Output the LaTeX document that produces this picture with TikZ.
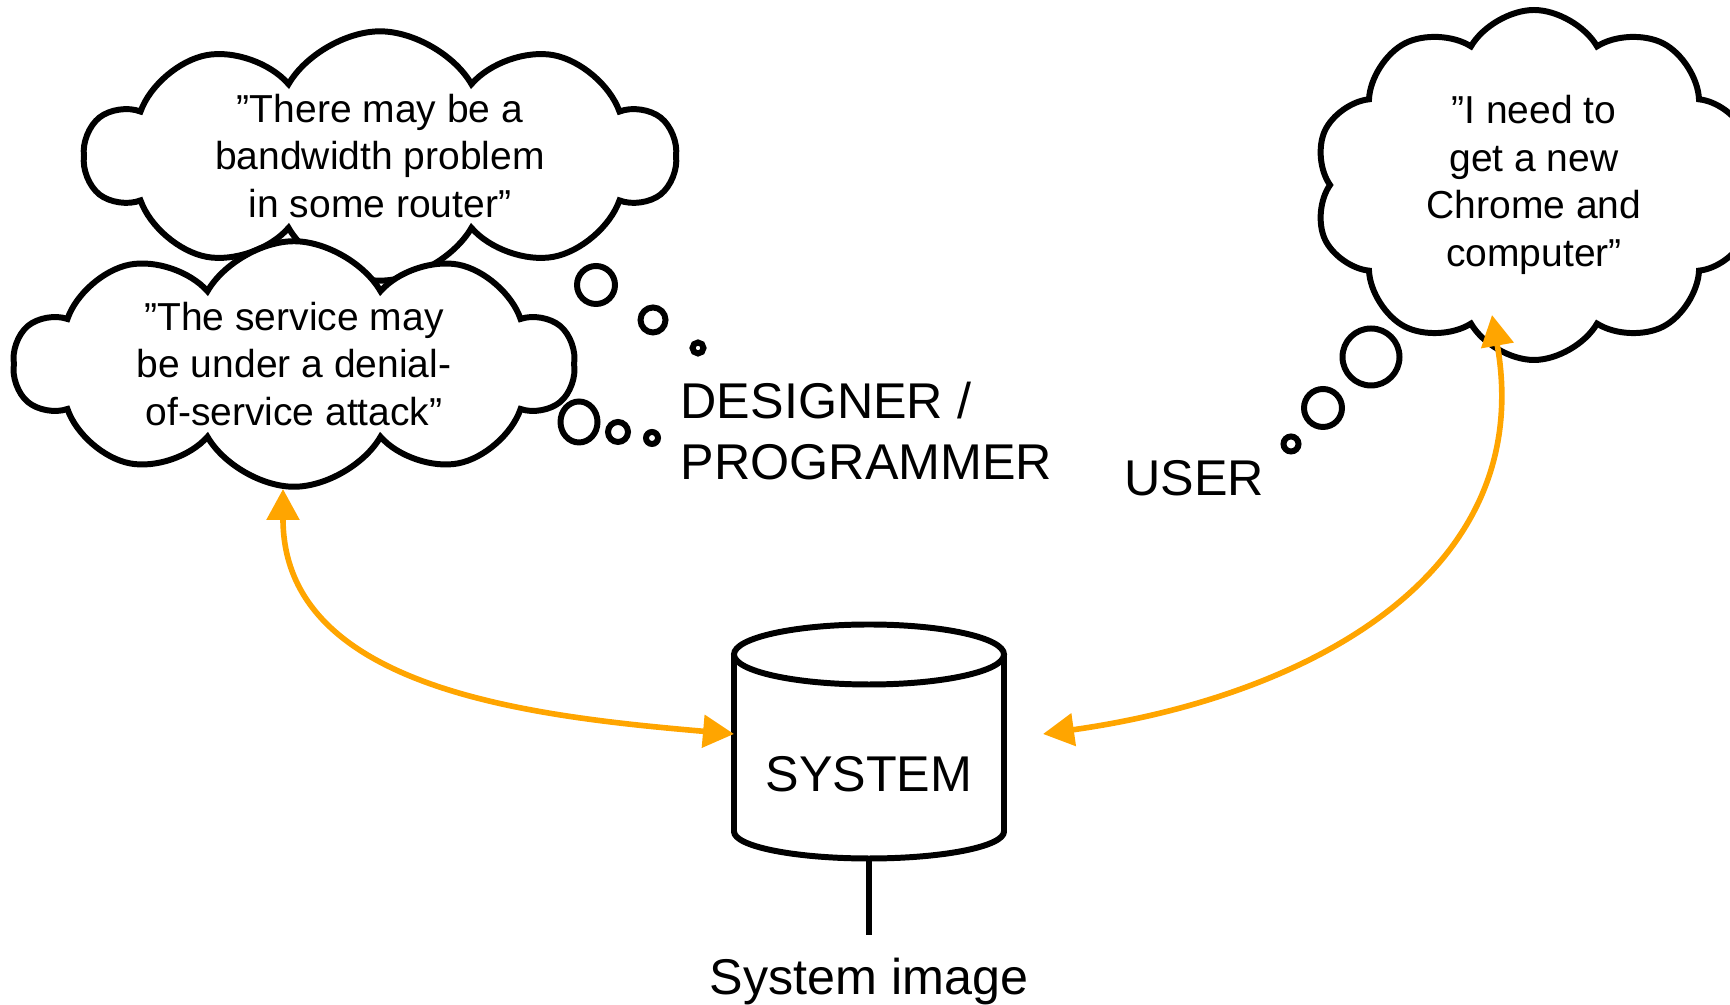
\documentclass[tikz,border=0pt]{standalone}
\usepackage{fontspec}
\setmainfont{Liberation Sans}
\usepackage{xcolor}
\usetikzlibrary{shapes,arrows.meta,positioning,calc}

\definecolor{arrowc}{HTML}{FFA500}

\begin{document}
\begin{tikzpicture}[
    x=0.1mm, y=-0.1mm,
    outl/.style={draw=black, line width=1.7pt},
    thought/.style={cloud, cloud puffs=10, cloud puff arc=120, cloud ignores aspect,
        outl, fill=white, inner sep=0pt, align=center,
        font=\fontsize{11.1}{13.5}\selectfont},
    bigtext/.style={font=\fontsize{14.3}{17.3}\selectfont, inner sep=0pt},
    flow/.style={<->, >={Triangle[length=3.1mm,width=3.2mm]}, draw=arrowc, line width=1.6pt}
]
\useasboundingbox (0,0) rectangle (1730,1005);

% thought clouds
\node[thought, minimum width=59mm, minimum height=22mm] (bandwidth) at (380,156)
    {”There may be a\\bandwidth problem\\in some router”};
\node[thought, minimum width=56mm, minimum height=23.5mm] (dos) at (294,364)
    {”The service may\\be under a denial-\\of-service attack”};
\node[thought, minimum width=44mm, minimum height=35mm] (chrome) at (1534,185)
    {”I need to\\get a new\\Chrome and\\computer”};

% bubbles
\foreach \x/\y/\r in {596/285/1.9, 653/320/1.25, 698/348/0.55,
                      618/432/1.0, 652/438/0.6,
                      1371/357/2.85, 1323/408/1.9, 1291/444/0.75}
    \draw[outl] (\x,\y) circle[radius=\r mm];
\draw[outl] (579,422) ellipse[x radius=1.85mm, y radius=2.05mm];

% people
\node[bigtext, anchor=west, align=left] (designer) at (680,431) {DESIGNER /\\PROGRAMMER};
\node[bigtext] (user) at (1194,478) {USER};

% system
\node[minimum width=27mm, minimum height=17.7mm, inner sep=0pt, outer sep=0pt] (sys) at (869,743) {};
\draw[outl] (sys.north west) -- (sys.south west)
    arc[start angle=180, end angle=360, x radius=13.5mm, y radius=2.7mm] -- (sys.north east);
\draw[outl] (sys.north) ellipse[x radius=13.5mm, y radius=3mm];
\node[bigtext] (systxt) at (869,774) {SYSTEM};
\node[bigtext, anchor=north, outer sep=2.3mm] (img) at (869,935) {System image};
\draw[outl] ($(sys.south)+(0,27)$) -- (img.north);

% views onto the system
\draw[flow] ($(dos.center)+(-11,125)$) to[out=-90, in=175] ($(sys.west)+(0,-9)$);
\draw[flow] ($(sys.east)+(39,-9)$) to[out=8, in=-80, looseness=1.1] ($(chrome.center)+(-42,130)$);

\end{tikzpicture}
\end{document}
